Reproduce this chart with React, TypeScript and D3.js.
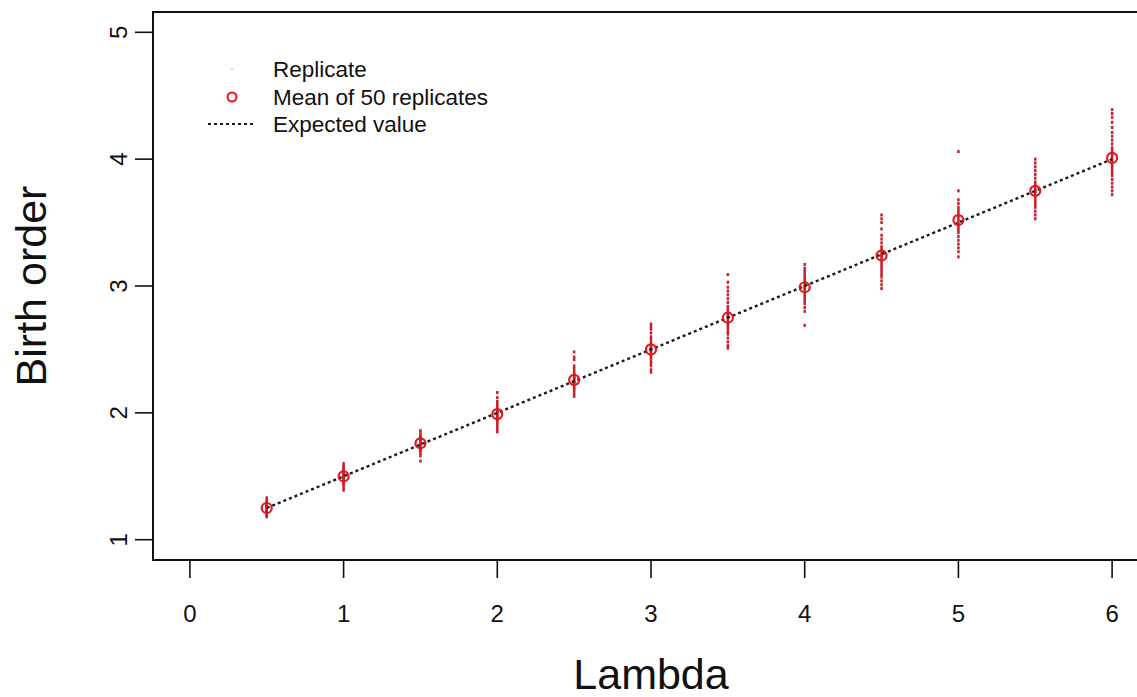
import * as d3 from "d3";

// lambda values and the 50-replicate runs
const lambdas = [0.5, 1, 1.5, 2, 2.5, 3, 3.5, 4, 4.5, 5, 5.5, 6];
const means = [1.25, 1.5, 1.76, 1.99, 2.26, 2.5, 2.75, 2.99, 3.24, 3.52, 3.75, 4.01];
const expected = [1.25, 1.5, 1.75, 2, 2.25, 2.5, 2.75, 3, 3.25, 3.5, 3.75, 4];

const replicates = [
  [1.18, 1.19, 1.2, 1.21, 1.22, 1.22, 1.23, 1.23, 1.24, 1.24, 1.25, 1.25, 1.25, 1.26, 1.26, 1.27, 1.27, 1.28, 1.29, 1.3, 1.31, 1.33],
  [1.39, 1.41, 1.43, 1.44, 1.45, 1.46, 1.47, 1.48, 1.49, 1.5, 1.5, 1.51, 1.52, 1.53, 1.54, 1.55, 1.56, 1.57, 1.58, 1.6],
  [1.62, 1.66, 1.68, 1.7, 1.71, 1.72, 1.73, 1.74, 1.75, 1.76, 1.77, 1.78, 1.79, 1.8, 1.81, 1.82, 1.84, 1.86],
  [1.85, 1.87, 1.89, 1.91, 1.93, 1.94, 1.96, 1.97, 1.98, 1.99, 2.0, 2.01, 2.02, 2.03, 2.05, 2.07, 2.09, 2.12, 2.16],
  [2.13, 2.15, 2.17, 2.19, 2.2, 2.22, 2.23, 2.24, 2.25, 2.26, 2.27, 2.28, 2.29, 2.3, 2.31, 2.33, 2.35, 2.37, 2.42, 2.44, 2.48],
  [2.32, 2.34, 2.37, 2.39, 2.41, 2.43, 2.45, 2.46, 2.48, 2.49, 2.5, 2.51, 2.52, 2.54, 2.56, 2.58, 2.6, 2.63, 2.66, 2.68, 2.7],
  [2.51, 2.53, 2.56, 2.59, 2.62, 2.64, 2.66, 2.68, 2.7, 2.72, 2.74, 2.75, 2.76, 2.78, 2.8, 2.82, 2.84, 2.87, 2.9, 2.93, 2.96, 2.99, 3.03, 3.09],
  [2.69, 2.8, 2.83, 2.86, 2.88, 2.9, 2.92, 2.94, 2.96, 2.98, 2.99, 3.0, 3.02, 3.04, 3.06, 3.08, 3.1, 3.12, 3.14, 3.17],
  [2.98, 3.01, 3.04, 3.07, 3.09, 3.11, 3.13, 3.15, 3.17, 3.19, 3.21, 3.23, 3.24, 3.25, 3.27, 3.29, 3.31, 3.34, 3.37, 3.4, 3.45, 3.5, 3.53, 3.56],
  [3.23, 3.27, 3.3, 3.33, 3.36, 3.39, 3.42, 3.44, 3.46, 3.48, 3.5, 3.52, 3.54, 3.56, 3.58, 3.6, 3.62, 3.65, 3.68, 3.75, 4.06],
  [3.53, 3.56, 3.59, 3.62, 3.64, 3.66, 3.68, 3.7, 3.72, 3.74, 3.75, 3.76, 3.78, 3.8, 3.82, 3.85, 3.88, 3.91, 3.94, 3.97, 4.0],
  [3.72, 3.75, 3.78, 3.81, 3.84, 3.87, 3.89, 3.91, 3.93, 3.95, 3.97, 3.99, 4.01, 4.03, 4.05, 4.07, 4.09, 4.12, 4.15, 4.18, 4.21, 4.25, 4.29, 4.33, 4.36, 4.39],
];

const xTicks = [0, 1, 2, 3, 4, 5, 6];
const yTicks = [1, 2, 3, 4, 5];
const legendLabels = ["Replicate", "Mean of 50 replicates", "Expected value"];

const W = 1137, H = 697;
const FONT = "'Liberation Sans', Arial, Helvetica, sans-serif";
const dotCol = "#c8202a";
const meanCol = "#e8141c";

export default function App() {
  // R-style 4% padding around xlim c(0,6) and ylim c(1,5)
  const x = d3.scaleLinear().domain([-0.24, 6.24]).range([153, 1149]);
  const y = d3.scaleLinear().domain([0.84, 5.16]).range([560, 12]);

  const line = d3.line<number>()
    .x((_, i) => x(lambdas[i]))
    .y(d => y(d));

  const legX = 232, legTextX = 273, legY = [69, 97, 124];

  return (
    <svg width={W} height={H} style={{ position: "absolute", left: 0, top: 0, background: "#fff" }} fontFamily={FONT}>
      <rect x={0} y={0} width={W} height={H} fill="#fff" />

      {/* box */}
      <rect x={x.range()[0]} y={y.range()[1]} width={x.range()[1] - x.range()[0]} height={y.range()[0] - y.range()[1]}
        fill="none" stroke="#111" strokeWidth={2} />

      {/* x axis */}
      {xTicks.map(t => (
        <g key={"x" + t}>
          <line x1={x(t)} x2={x(t)} y1={560} y2={578} stroke="#111" strokeWidth={1.6} />
          <text x={x(t)} y={622} fontSize={24} textAnchor="middle" fill="#111">{t}</text>
        </g>
      ))}
      {/* y axis */}
      {yTicks.map(t => (
        <g key={"y" + t}>
          <line x1={135} x2={153} y1={y(t)} y2={y(t)} stroke="#111" strokeWidth={1.6} />
          <text transform={`translate(127,${y(t)}) rotate(-90)`} fontSize={24} textAnchor="middle" fill="#111">{t}</text>
        </g>
      ))}

      <text x={651} y={689} fontSize={43} textAnchor="middle" fill="#111">Lambda</text>
      <text transform={`translate(46,${(12 + 560) / 2}) rotate(-90)`} fontSize={43} textAnchor="middle" fill="#111">Birth order</text>

      {/* replicates */}
      {replicates.map((vals, i) =>
        vals.map((v, j) => (
          <rect key={`r${i}-${j}`} x={x(lambdas[i]) - 1.25} y={y(v) - 1.5} width={2.5} height={3} fill={dotCol} />
        ))
      )}

      {/* expected value */}
      <path d={line(expected) ?? ""} fill="none" stroke="#1a1a1a" strokeWidth={2.4} strokeDasharray="3,3" />

      {/* means */}
      {means.map((m, i) => (
        <circle key={"m" + i} cx={x(lambdas[i])} cy={y(m)} r={5} fill="none" stroke={meanCol} strokeWidth={2.2} />
      ))}

      {/* legend */}
      <rect x={legX - 0.5} y={legY[0] - 0.5} width={1} height={1} fill={dotCol} />
      <circle cx={legX} cy={legY[1]} r={4.5} fill="none" stroke={meanCol} strokeWidth={2} />
      <line x1={208} x2={256} y1={legY[2]} y2={legY[2]} stroke="#1a1a1a" strokeWidth={2} strokeDasharray="3,3" />
      {legendLabels.map((l, i) => (
        <text key={l} x={legTextX} y={legY[i]} dy="0.35em" fontSize={22.5} fill="#111">{l}</text>
      ))}
    </svg>
  );
}
